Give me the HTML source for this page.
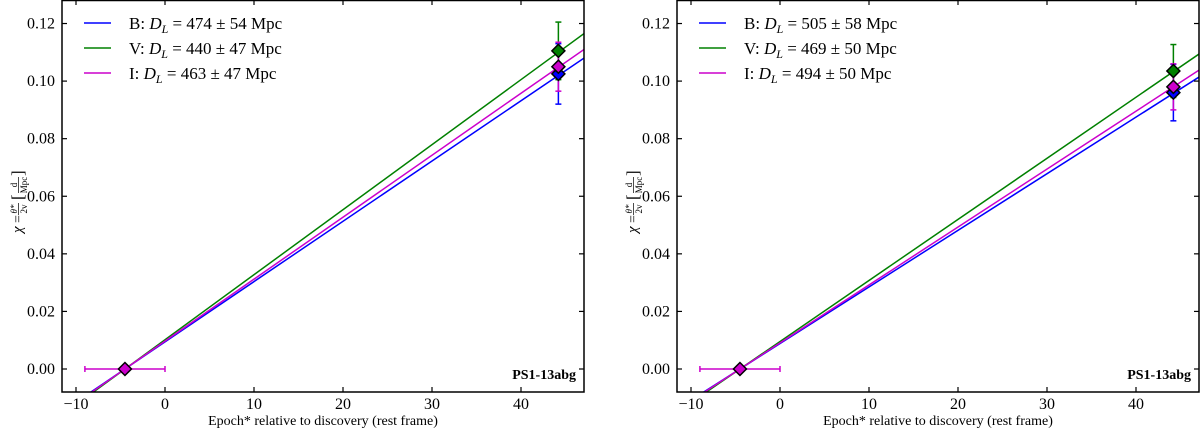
<!DOCTYPE html>
<html><head><meta charset="utf-8"><style>
body{margin:0;background:#fff;}
svg{display:block;}
svg text{font-family:"Liberation Serif","DejaVu Serif",serif;}
</style></head><body>
<svg id="c" width="1200" height="429" xmlns="http://www.w3.org/2000/svg" font-family="Liberation Serif, serif"></svg>
<script>
const bands = ['B','V','I'];
const colors = ['#0000ff','#008000','#cc00cc'];
const leftDL = ['474 ± 54','440 ± 47','463 ± 47'];
const rightDL = ['505 ± 58','469 ± 50','494 ± 50'];
const leftPointY = [0.1025,0.1105,0.105];
const leftPointErr = [0.0105,0.0100,0.0085];
const leftLineEnd = [0.108,0.1165,0.111];
const rightPointY = [0.096,0.1035,0.098];
const rightPointErr = [0.0098,0.0092,0.008];
const rightLineEnd = [0.1014,0.1094,0.1038];
const lateEpoch = 44.2;
const earlyEpoch = -4.5;
const earlyErrLo = -9;
const earlyErrHi = 0;
const xTicks = [-10,0,10,20,30,40];
const yTicks = [0,0.02,0.04,0.06,0.08,0.10,0.12];
const NS='http://www.w3.org/2000/svg';
const svg=document.getElementById('c');
const FF='Liberation Serif, DejaVu Serif, serif';
function el(tag,attrs,parent,text){const e=document.createElementNS(NS,tag);for(const k in attrs)e.setAttribute(k,attrs[k]);if(tag==='text')e.setAttribute('font-family',FF);if(text!==undefined)e.textContent=text;(parent||svg).appendChild(e);return e;}
function panel(off,name,dl,py,perr,lend){
  const g=el('g',{transform:'translate('+off+',0)'});
  
  
  const L=62,R=584,T=0,B=392;
  const xs=v=>165+(v)*8.9;
  const ys=v=>369-v*2879;
  const xmin=(L-165)/8.9, xmax=(R-165)/8.9;
  const clip='clip'+off;
  const d=el('defs',{},g);const cp=el('clipPath',{id:clip},d);el('rect',{x:L,y:T,width:R-L,height:B-T},cp);
  const pl=el('g',{'clip-path':'url(#'+clip+')'},g);
  for(let i=0;i<3;i++){
    const slope=lend[i]/(xmax-earlyEpoch);
    const y0=slope*(xmin-earlyEpoch);
    const ln=el('line',{x1:xs(xmin),y1:ys(y0),x2:xs(xmax),y2:ys(lend[i]),stroke:colors[i],'stroke-width':1.5},pl);
    
    
  }
  for(let i=0;i<3;i++){
    const x=xs(lateEpoch);
    const eb=el('g',{stroke:colors[i],'stroke-width':1.5},pl);
    
    
    el('line',{x1:x,x2:x,y1:ys(py[i]-perr[i]),y2:ys(py[i]+perr[i])},eb);
    el('line',{x1:x-3,x2:x+3,y1:ys(py[i]-perr[i]),y2:ys(py[i]-perr[i])},eb);
    el('line',{x1:x-3,x2:x+3,y1:ys(py[i]+perr[i]),y2:ys(py[i]+perr[i])},eb);
  }
  for(let i=0;i<3;i++){
    const x=xs(lateEpoch),y=ys(py[i]);
    const m=el('polygon',{points:[x,y-6.5,x+6.5,y,x,y+6.5,x-6.5,y].join(' '),fill:colors[i],stroke:'#000','stroke-width':1.5},pl);
    
    
  }
  const ex=el('g',{stroke:'#cc00cc','stroke-width':1.5},pl);
  
  
  el('line',{x1:xs(earlyErrLo),x2:xs(earlyErrHi),y1:ys(0),y2:ys(0)},ex);
  el('line',{x1:xs(earlyErrLo),x2:xs(earlyErrLo),y1:ys(0)-3,y2:ys(0)+3},ex);
  el('line',{x1:xs(earlyErrHi),x2:xs(earlyErrHi),y1:ys(0)-3,y2:ys(0)+3},ex);
  const x0=xs(earlyEpoch),y0=ys(0);
  const ep=el('polygon',{points:[x0,y0-6.5,x0+6.5,y0,x0,y0+6.5,x0-6.5,y0].join(' '),fill:'#cc00cc',stroke:'#000','stroke-width':1.5},pl);
  
  
  const fr=el('rect',{x:L,y:T+0.5,width:R-L,height:B-T-0.5,fill:'none',stroke:'#000','stroke-width':1.5},g);
  
  
  for(const t of xTicks){
    const x=xs(t);
    el('line',{x1:x,x2:x,y1:B,y2:B-5,stroke:'#000','stroke-width':1.2},g);
    el('line',{x1:x,x2:x,y1:T,y2:T+5,stroke:'#000','stroke-width':1.2},g);
    const tl=el('text',{x:x,y:B+17,'text-anchor':'middle','font-size':16},g,(t<0?'\u2212':'')+Math.abs(t));
    
    
  }
  for(const t of yTicks){
    const y=ys(t);
    el('line',{x1:L,x2:L+5,y1:y,y2:y,stroke:'#000','stroke-width':1.2},g);
    el('line',{x1:R,x2:R-5,y1:y,y2:y,stroke:'#000','stroke-width':1.2},g);
    const tl=el('text',{x:L-7,y:y+5,'text-anchor':'end','font-size':16},g,t.toFixed(2));
    
    
  }
  const xt=el('text',{x:323,y:425,'text-anchor':'middle','font-size':14},g,'Epoch* relative to discovery (rest frame)');
  
  
  const yg=el('g',{transform:'translate(22,196) rotate(-90)'},g);
  
  
  el('text',{x:-37,y:0,'font-size':15,'font-style':'italic'},yg,'χ');
  el('text',{x:-27,y:0,'font-size':14},yg,'=');
  el('text',{x:-13,y:-5,'font-size':9,'text-anchor':'middle','font-style':'italic'},yg,'θ*');
  el('line',{x1:-19,x2:-7,y1:-3.5,y2:-3.5,stroke:'#000','stroke-width':0.7},yg);
  el('text',{x:-13,y:5,'font-size':9,'text-anchor':'middle'},yg,'2v');
  el('text',{x:-4,y:1,'font-size':17},yg,'[');
  el('text',{x:11,y:-5,'font-size':9,'text-anchor':'middle'},yg,'d');
  el('line',{x1:3,x2:19,y1:-3.5,y2:-3.5,stroke:'#000','stroke-width':0.7},yg);
  el('text',{x:11,y:5,'font-size':9,'text-anchor':'middle'},yg,'Mpc');
  el('text',{x:20,y:1,'font-size':17},yg,']');
  const lab=el('text',{x:R-8,y:B-13,'text-anchor':'end','font-size':14,'font-weight':'bold'},g,'PS1-13abg');
  
  
  const lg=el('g',{},g);
  
  
  for(let i=0;i<3;i++){
    const y=23+i*25;
    const e=el('g',{},lg);
    
    
    el('line',{x1:84,x2:111,y1:y,y2:y,stroke:colors[i],'stroke-width':1.5},e);
    const t=el('text',{x:129,y:y+6,'font-size':17},e,bands[i]+': ');
    const a=document.createElementNS(NS,'tspan');a.setAttribute('font-style','italic');a.textContent='D';t.appendChild(a);
    const b=document.createElementNS(NS,'tspan');b.setAttribute('font-style','italic');b.setAttribute('font-size','12');b.setAttribute('dy','4');b.textContent='L';t.appendChild(b);
    const c=document.createElementNS(NS,'tspan');c.setAttribute('dy','-4');c.textContent=' = '+dl[i]+' Mpc';t.appendChild(c);
  }
}
panel(0,'left-panel',leftDL,leftPointY,leftPointErr,leftLineEnd);
panel(615,'right-panel',rightDL,rightPointY,rightPointErr,rightLineEnd);
</script>
</body></html>
